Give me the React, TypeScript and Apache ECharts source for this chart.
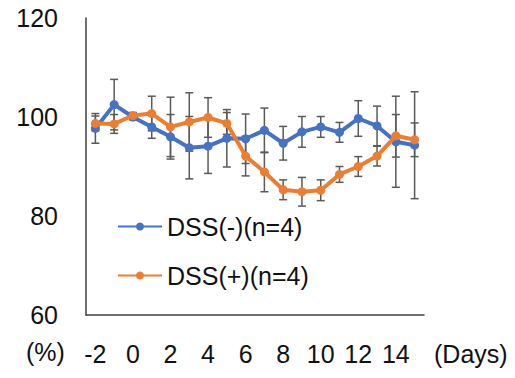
import React, { useEffect, useRef } from "react";
import * as echarts from "echarts";

const days = ["-2", "-1", "0", "1", "2", "3", "4", "5", "6", "7", "8", "9", "10", "11", "12", "13", "14", "15"];
const yTicks = [60, 80, 100, 120];
const dssMinus = [97.7, 102.5, 100.0, 98.0, 96.0, 93.8, 94.1, 95.7, 95.6, 97.3, 94.7, 97.0, 98.0, 96.9, 99.7, 98.2, 95.0, 94.3];
const dssMinusErr = [3.0, 5.1, 0.6, 2.3, 4.5, 6.3, 5.5, 5.8, 5.0, 4.5, 3.4, 3.1, 2.1, 2.0, 3.6, 4.0, 9.2, 10.8];
const dssPlus = [98.7, 98.6, 100.3, 100.7, 98.0, 99.0, 99.9, 98.7, 92.1, 88.9, 85.3, 84.9, 85.2, 88.4, 90.0, 92.1, 96.2, 95.4];
const dssPlusErr = [1.5, 1.9, 0.6, 3.5, 6.0, 5.9, 4.0, 2.2, 4.0, 4.0, 2.0, 2.9, 2.1, 1.6, 2.0, 2.0, 4.3, 3.4];
const seriesNames = ["DSS(-)(n=4)", "DSS(+)(n=4)"];
const colors = ["#4472C4", "#ED7D31"];

const FONT = "Liberation Sans";
const FS = 25;

function errData(vals: number[], errs: number[]) {
  return vals.map((v, i) => [i, v - errs[i], v + errs[i]]);
}

function errorSeries(vals: number[], errs: number[]) {
  return {
    type: "custom",
    silent: true,
    z: 1,
    data: errData(vals, errs),
    encode: { x: 0, y: [1, 2] },
    renderItem: (params: any, api: any) => {
      const x = api.value(0);
      const lo = api.coord([x, api.value(1)]);
      const hi = api.coord([x, api.value(2)]);
      const w = 4;
      const style = { stroke: "#5a5a5a", lineWidth: 1.5, fill: "none" };
      return {
        type: "group",
        children: [
          { type: "line", shape: { x1: lo[0], y1: lo[1], x2: hi[0], y2: hi[1] }, style },
          { type: "line", shape: { x1: lo[0] - w, y1: lo[1], x2: lo[0] + w, y2: lo[1] }, style },
          { type: "line", shape: { x1: hi[0] - w, y1: hi[1], x2: hi[0] + w, y2: hi[1] }, style },
        ],
      };
    },
  };
}

export default function App() {
  const ref = useRef<HTMLDivElement>(null);
  useEffect(() => {
    if (!ref.current) return;
    const chart = echarts.init(ref.current, null, { renderer: "svg" });
    chart.setOption({
      animation: false,
      backgroundColor: "#ffffff",
      textStyle: { fontFamily: FONT },
      grid: { left: 86, top: 18, right: 91, bottom: 63, containLabel: false },
      legend: {
        orient: "vertical",
        left: 112,
        top: 209,
        itemGap: 24,
        itemWidth: 44,
        itemHeight: 10,
        data: seriesNames,
        textStyle: { fontFamily: FONT, fontSize: FS, color: "#111" },
      },
      xAxis: {
        type: "category",
        data: days,
        boundaryGap: true,
        axisLine: { lineStyle: { color: "#404040", width: 1.5 } },
        axisTick: { show: false },
        axisLabel: { interval: 1, margin: 26, fontSize: FS, color: "#111", fontFamily: FONT },
        splitLine: { show: false },
      },
      yAxis: {
        type: "value",
        min: yTicks[0],
        max: yTicks[yTicks.length - 1],
        interval: 20,
        axisLine: { show: true, lineStyle: { color: "#404040", width: 1.5 } },
        axisTick: { show: false },
        axisLabel: { margin: 28, fontSize: FS, color: "#111", fontFamily: FONT },
        splitLine: { show: false },
      },
      series: [
        errorSeries(dssMinus, dssMinusErr),
        errorSeries(dssPlus, dssPlusErr),
        {
          name: seriesNames[0],
          type: "line",
          z: 3,
          data: dssMinus,
          symbol: "circle",
          symbolSize: 9,
          color: colors[0],
          lineStyle: { width: 4, color: colors[0] },
          itemStyle: { color: colors[0] },
        },
        {
          name: seriesNames[1],
          type: "line",
          z: 4,
          data: dssPlus,
          symbol: "circle",
          symbolSize: 9,
          color: colors[1],
          lineStyle: { width: 4, color: colors[1] },
          itemStyle: { color: colors[1] },
        },
      ],
      graphic: [
        {
          type: "text",
          left: 26,
          top: 339,
          style: { text: "(%)", font: `${FS}px "${FONT}"`, fill: "#111" },
        },
        {
          type: "text",
          left: 434,
          top: 341,
          style: { text: "(Days)", font: `${FS}px "${FONT}"`, fill: "#111" },
        },
      ],
    });
    return () => chart.dispose();
  }, []);
  return (
    <div
      ref={ref}
      style={{ position: "fixed", left: 0, top: 0, width: 515, height: 378 }}
    />
  );
}
